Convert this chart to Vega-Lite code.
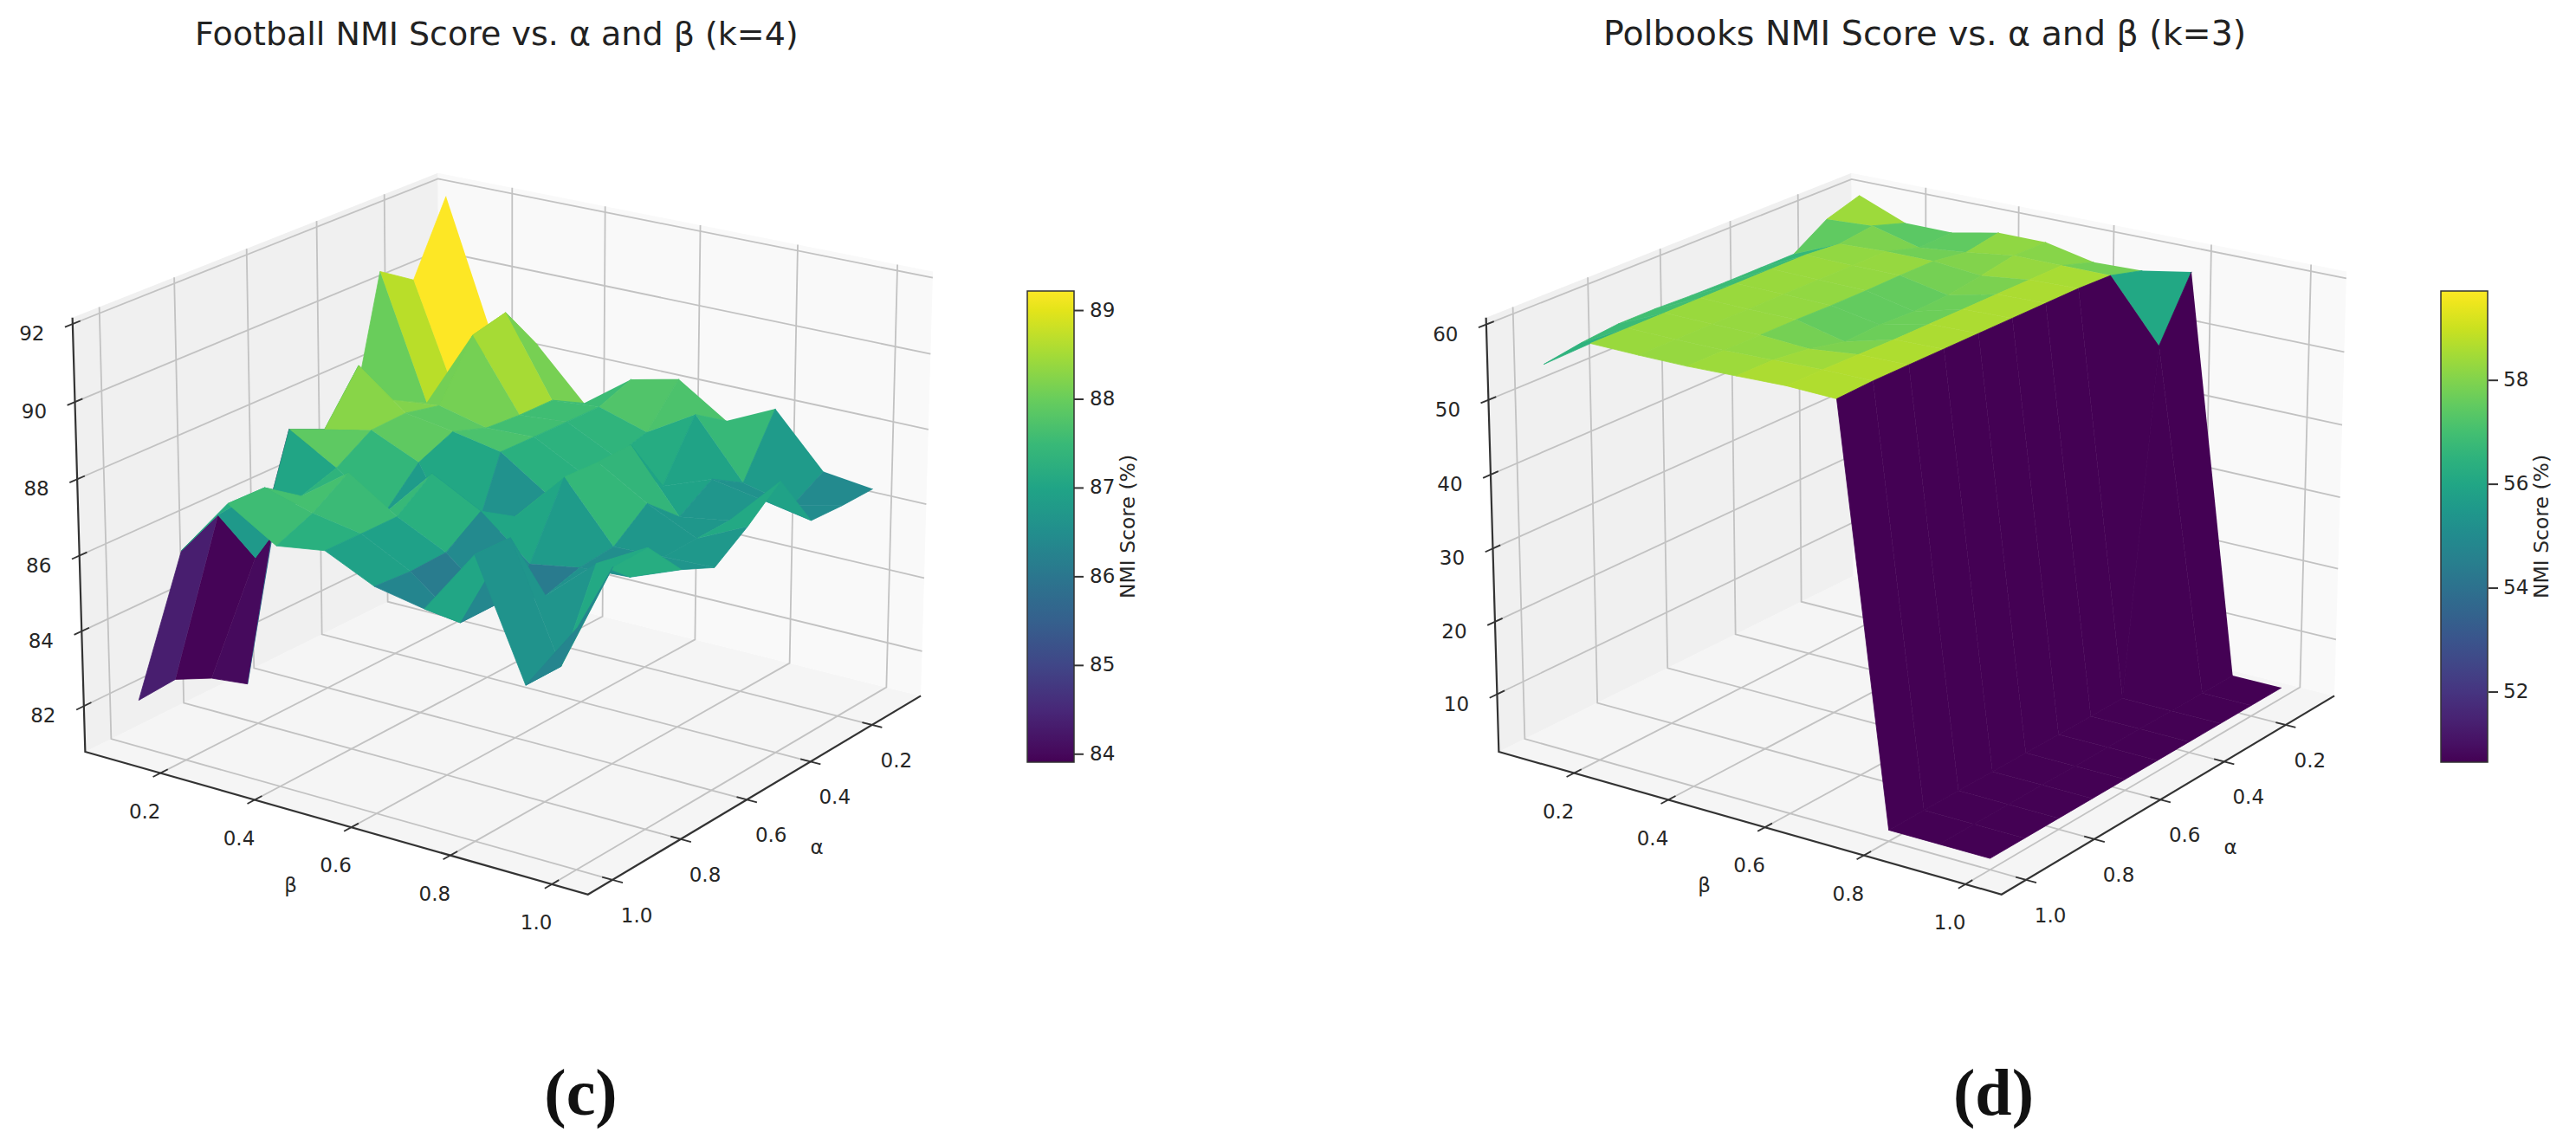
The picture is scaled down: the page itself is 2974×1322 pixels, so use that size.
{"$schema":"https://vega.github.io/schema/vega-lite/v6.json","padding":0,"spacing":0,"bounds":"flush","background":"white","config":{"view":{"stroke":null},"font":"DejaVu Sans"},"resolve":{"scale":{"fill":"independent","stroke":"independent"},"legend":{"fill":"independent","stroke":"independent"}},
"datasets":{
"box":[{"g":"floor","s":0,"a":1.07,"b":0.037,"zf":0},{"g":"floor","s":1,"a":1.07,"b":1.07,"zf":0},{"g":"floor","s":2,"a":0.037,"b":1.07,"zf":0},{"g":"floor","s":3,"a":0.037,"b":0.037,"zf":0},{"g":"left","s":0,"a":1.07,"b":0.037,"zf":0},{"g":"left","s":1,"a":1.07,"b":0.037,"zf":1},{"g":"left","s":2,"a":0.037,"b":0.037,"zf":1},{"g":"left","s":3,"a":0.037,"b":0.037,"zf":0},{"g":"right","s":0,"a":0.037,"b":0.037,"zf":0},{"g":"right","s":1,"a":0.037,"b":0.037,"zf":1},{"g":"right","s":2,"a":0.037,"b":1.07,"zf":1},{"g":"right","s":3,"a":0.037,"b":1.07,"zf":0},{"g":"axes","s":0,"a":1.07,"b":0.037,"zf":1},{"g":"axes","s":1,"a":1.07,"b":0.037,"zf":0},{"g":"axes","s":2,"a":1.07,"b":1.07,"zf":0},{"g":"axes","s":3,"a":0.037,"b":1.07,"zf":0}],
"frameC":[{"kind":"a","v":0.2,"label":"0.2"},{"kind":"a","v":0.4,"label":"0.4"},{"kind":"a","v":0.6,"label":"0.6"},{"kind":"a","v":0.8,"label":"0.8"},{"kind":"a","v":1.0,"label":"1.0"},{"kind":"b","v":0.2,"label":"0.2"},{"kind":"b","v":0.4,"label":"0.4"},{"kind":"b","v":0.6,"label":"0.6"},{"kind":"b","v":0.8,"label":"0.8"},{"kind":"b","v":1.0,"label":"1.0"},{"kind":"z","v":82,"label":"82"},{"kind":"z","v":84,"label":"84"},{"kind":"z","v":86,"label":"86"},{"kind":"z","v":88,"label":"88"},{"kind":"z","v":90,"label":"90"},{"kind":"z","v":92,"label":"92"},{"kind":"ta","v":0.6,"label":"α"},{"kind":"tb","v":0.6,"label":"β"}],
"frameD":[{"kind":"a","v":0.2,"label":"0.2"},{"kind":"a","v":0.4,"label":"0.4"},{"kind":"a","v":0.6,"label":"0.6"},{"kind":"a","v":0.8,"label":"0.8"},{"kind":"a","v":1.0,"label":"1.0"},{"kind":"b","v":0.2,"label":"0.2"},{"kind":"b","v":0.4,"label":"0.4"},{"kind":"b","v":0.6,"label":"0.6"},{"kind":"b","v":0.8,"label":"0.8"},{"kind":"b","v":1.0,"label":"1.0"},{"kind":"z","v":10,"label":"10"},{"kind":"z","v":20,"label":"20"},{"kind":"z","v":30,"label":"30"},{"kind":"z","v":40,"label":"40"},{"kind":"z","v":50,"label":"50"},{"kind":"z","v":60,"label":"60"},{"kind":"ta","v":0.6,"label":"α"},{"kind":"tb","v":0.6,"label":"β"}],
"cbarC":[{"tick":84},{"tick":85},{"tick":86},{"tick":87},{"tick":88},{"tick":89}],
"cbarD":[{"tick":52},{"tick":54},{"tick":56},{"tick":58}],
"football":[
{"alpha":0.1,"beta":0.1,"nmi":91.9},{"alpha":0.1,"beta":0.2,"nmi":88.33},{"alpha":0.1,"beta":0.3,"nmi":88.34},{"alpha":0.1,"beta":0.4,"nmi":87.03},{"alpha":0.1,"beta":0.5,"nmi":87.97},{"alpha":0.1,"beta":0.6,"nmi":88.26},{"alpha":0.1,"beta":0.7,"nmi":87.41},{"alpha":0.1,"beta":0.8,"nmi":88.03},{"alpha":0.1,"beta":0.9,"nmi":86.63},{"alpha":0.1,"beta":1.0,"nmi":86.47},
{"alpha":0.2,"beta":0.1,"nmi":89.98},{"alpha":0.2,"beta":0.2,"nmi":86.8},{"alpha":0.2,"beta":0.3,"nmi":89.63},{"alpha":0.2,"beta":0.4,"nmi":87.52},{"alpha":0.2,"beta":0.5,"nmi":87.63},{"alpha":0.2,"beta":0.6,"nmi":87.23},{"alpha":0.2,"beta":0.7,"nmi":88.0},{"alpha":0.2,"beta":0.8,"nmi":86.46},{"alpha":0.2,"beta":0.9,"nmi":86.15},{"alpha":0.2,"beta":1.0,"nmi":86.46},
{"alpha":0.3,"beta":0.1,"nmi":90.59},{"alpha":0.3,"beta":0.2,"nmi":87.28},{"alpha":0.3,"beta":0.3,"nmi":89.41},{"alpha":0.3,"beta":0.4,"nmi":87.53},{"alpha":0.3,"beta":0.5,"nmi":87.64},{"alpha":0.3,"beta":0.6,"nmi":87.0},{"alpha":0.3,"beta":0.7,"nmi":86.5},{"alpha":0.3,"beta":0.8,"nmi":86.99},{"alpha":0.3,"beta":0.9,"nmi":86.75},{"alpha":0.3,"beta":1.0,"nmi":86.5},
{"alpha":0.4,"beta":0.1,"nmi":86.4},{"alpha":0.4,"beta":0.2,"nmi":87.77},{"alpha":0.4,"beta":0.3,"nmi":87.91},{"alpha":0.4,"beta":0.4,"nmi":87.6},{"alpha":0.4,"beta":0.5,"nmi":87.65},{"alpha":0.4,"beta":0.6,"nmi":86.97},{"alpha":0.4,"beta":0.7,"nmi":88.02},{"alpha":0.4,"beta":0.8,"nmi":86.42},{"alpha":0.4,"beta":0.9,"nmi":86.63},{"alpha":0.4,"beta":1.0,"nmi":87.97},
{"alpha":0.5,"beta":0.1,"nmi":86.5},{"alpha":0.5,"beta":0.2,"nmi":89.11},{"alpha":0.5,"beta":0.3,"nmi":88.12},{"alpha":0.5,"beta":0.4,"nmi":87.92},{"alpha":0.5,"beta":0.5,"nmi":87.67},{"alpha":0.5,"beta":0.6,"nmi":86.8},{"alpha":0.5,"beta":0.7,"nmi":87.99},{"alpha":0.5,"beta":0.8,"nmi":87.21},{"alpha":0.5,"beta":0.9,"nmi":86.6},{"alpha":0.5,"beta":1.0,"nmi":87.23},
{"alpha":0.6,"beta":0.1,"nmi":85.8},{"alpha":0.6,"beta":0.2,"nmi":87.81},{"alpha":0.6,"beta":0.3,"nmi":88.08},{"alpha":0.6,"beta":0.4,"nmi":87.52},{"alpha":0.6,"beta":0.5,"nmi":85.2},{"alpha":0.6,"beta":0.6,"nmi":86.69},{"alpha":0.6,"beta":0.7,"nmi":88.03},{"alpha":0.6,"beta":0.8,"nmi":86.52},{"alpha":0.6,"beta":0.9,"nmi":86.57},{"alpha":0.6,"beta":1.0,"nmi":86.61},
{"alpha":0.7,"beta":0.1,"nmi":81.02},{"alpha":0.7,"beta":0.2,"nmi":88.23},{"alpha":0.7,"beta":0.3,"nmi":87.5},{"alpha":0.7,"beta":0.4,"nmi":86.6},{"alpha":0.7,"beta":0.5,"nmi":87.95},{"alpha":0.7,"beta":0.6,"nmi":87.27},{"alpha":0.7,"beta":0.7,"nmi":86.21},{"alpha":0.7,"beta":0.8,"nmi":86.43},{"alpha":0.7,"beta":0.9,"nmi":86.5},{"alpha":0.7,"beta":1.0,"nmi":87.01},
{"alpha":0.8,"beta":0.1,"nmi":81.66},{"alpha":0.8,"beta":0.2,"nmi":85.24},{"alpha":0.8,"beta":0.3,"nmi":87.19},{"alpha":0.8,"beta":0.4,"nmi":88.1},{"alpha":0.8,"beta":0.5,"nmi":87.26},{"alpha":0.8,"beta":0.6,"nmi":86.64},{"alpha":0.8,"beta":0.7,"nmi":85.6},{"alpha":0.8,"beta":0.8,"nmi":86.16},{"alpha":0.8,"beta":0.9,"nmi":87.3},{"alpha":0.8,"beta":1.0,"nmi":88.02},
{"alpha":0.9,"beta":0.1,"nmi":82.11},{"alpha":0.9,"beta":0.2,"nmi":86.82},{"alpha":0.9,"beta":0.3,"nmi":87.84},{"alpha":0.9,"beta":0.4,"nmi":87.48},{"alpha":0.9,"beta":0.5,"nmi":87.26},{"alpha":0.9,"beta":0.6,"nmi":86.6},{"alpha":0.9,"beta":0.7,"nmi":85.6},{"alpha":0.9,"beta":0.8,"nmi":88.09},{"alpha":0.9,"beta":0.9,"nmi":85.14},{"alpha":0.9,"beta":1.0,"nmi":87.99},
{"alpha":1.0,"beta":0.1,"nmi":82.03},{"alpha":1.0,"beta":0.2,"nmi":86.33},{"alpha":1.0,"beta":0.3,"nmi":87.86},{"alpha":1.0,"beta":0.4,"nmi":87.08},{"alpha":1.0,"beta":0.5,"nmi":87.27},{"alpha":1.0,"beta":0.6,"nmi":86.67},{"alpha":1.0,"beta":0.7,"nmi":86.42},{"alpha":1.0,"beta":0.8,"nmi":88.11},{"alpha":1.0,"beta":0.9,"nmi":85.14},{"alpha":1.0,"beta":1.0,"nmi":86.93}],
"polbooks":[
{"alpha":0.1,"beta":0.1,"nmi":59.7},{"alpha":0.1,"beta":0.2,"nmi":57.1},{"alpha":0.1,"beta":0.3,"nmi":57.1},{"alpha":0.1,"beta":0.4,"nmi":58.4},{"alpha":0.1,"beta":0.5,"nmi":58.4},{"alpha":0.1,"beta":0.6,"nmi":57.0},{"alpha":0.1,"beta":0.7,"nmi":57.2},{"alpha":0.1,"beta":0.8,"nmi":58.4},{"alpha":0.1,"beta":0.9,"nmi":3.5},{"alpha":0.1,"beta":1.0,"nmi":3.5},
{"alpha":0.2,"beta":0.1,"nmi":58.2},{"alpha":0.2,"beta":0.2,"nmi":58.6},{"alpha":0.2,"beta":0.3,"nmi":56.9},{"alpha":0.2,"beta":0.4,"nmi":57.6},{"alpha":0.2,"beta":0.5,"nmi":58.5},{"alpha":0.2,"beta":0.6,"nmi":58.5},{"alpha":0.2,"beta":0.7,"nmi":58.5},{"alpha":0.2,"beta":0.8,"nmi":50.3},{"alpha":0.2,"beta":0.9,"nmi":3.5},{"alpha":0.2,"beta":1.0,"nmi":3.5},
{"alpha":0.3,"beta":0.1,"nmi":55.2},{"alpha":0.3,"beta":0.2,"nmi":58.0},{"alpha":0.3,"beta":0.3,"nmi":58.3},{"alpha":0.3,"beta":0.4,"nmi":58.3},{"alpha":0.3,"beta":0.5,"nmi":57.7},{"alpha":0.3,"beta":0.6,"nmi":58.5},{"alpha":0.3,"beta":0.7,"nmi":58.7},{"alpha":0.3,"beta":0.8,"nmi":3.5},{"alpha":0.3,"beta":0.9,"nmi":3.5},{"alpha":0.3,"beta":1.0,"nmi":3.5},
{"alpha":0.4,"beta":0.1,"nmi":55.2},{"alpha":0.4,"beta":0.2,"nmi":58.4},{"alpha":0.4,"beta":0.3,"nmi":58.3},{"alpha":0.4,"beta":0.4,"nmi":58.3},{"alpha":0.4,"beta":0.5,"nmi":57.0},{"alpha":0.4,"beta":0.6,"nmi":58.5},{"alpha":0.4,"beta":0.7,"nmi":58.7},{"alpha":0.4,"beta":0.8,"nmi":3.5},{"alpha":0.4,"beta":0.9,"nmi":3.5},{"alpha":0.4,"beta":1.0,"nmi":3.5},
{"alpha":0.5,"beta":0.1,"nmi":55.2},{"alpha":0.5,"beta":0.2,"nmi":58.4},{"alpha":0.5,"beta":0.3,"nmi":58.3},{"alpha":0.5,"beta":0.4,"nmi":58.2},{"alpha":0.5,"beta":0.5,"nmi":56.8},{"alpha":0.5,"beta":0.6,"nmi":58.5},{"alpha":0.5,"beta":0.7,"nmi":58.7},{"alpha":0.5,"beta":0.8,"nmi":3.5},{"alpha":0.5,"beta":0.9,"nmi":3.5},{"alpha":0.5,"beta":1.0,"nmi":3.5},
{"alpha":0.6,"beta":0.1,"nmi":55.3},{"alpha":0.6,"beta":0.2,"nmi":58.4},{"alpha":0.6,"beta":0.3,"nmi":58.3},{"alpha":0.6,"beta":0.4,"nmi":58.2},{"alpha":0.6,"beta":0.5,"nmi":57.0},{"alpha":0.6,"beta":0.6,"nmi":58.5},{"alpha":0.6,"beta":0.7,"nmi":58.7},{"alpha":0.6,"beta":0.8,"nmi":3.5},{"alpha":0.6,"beta":0.9,"nmi":3.5},{"alpha":0.6,"beta":1.0,"nmi":3.5},
{"alpha":0.7,"beta":0.1,"nmi":55.5},{"alpha":0.7,"beta":0.2,"nmi":58.4},{"alpha":0.7,"beta":0.3,"nmi":58.3},{"alpha":0.7,"beta":0.4,"nmi":58.3},{"alpha":0.7,"beta":0.5,"nmi":56.8},{"alpha":0.7,"beta":0.6,"nmi":58.5},{"alpha":0.7,"beta":0.7,"nmi":58.7},{"alpha":0.7,"beta":0.8,"nmi":3.5},{"alpha":0.7,"beta":0.9,"nmi":3.5},{"alpha":0.7,"beta":1.0,"nmi":3.5},
{"alpha":0.8,"beta":0.1,"nmi":55.5},{"alpha":0.8,"beta":0.2,"nmi":58.4},{"alpha":0.8,"beta":0.3,"nmi":58.3},{"alpha":0.8,"beta":0.4,"nmi":58.3},{"alpha":0.8,"beta":0.5,"nmi":57.9},{"alpha":0.8,"beta":0.6,"nmi":58.6},{"alpha":0.8,"beta":0.7,"nmi":58.7},{"alpha":0.8,"beta":0.8,"nmi":3.5},{"alpha":0.8,"beta":0.9,"nmi":3.5},{"alpha":0.8,"beta":1.0,"nmi":3.5},
{"alpha":0.9,"beta":0.1,"nmi":55.0},{"alpha":0.9,"beta":0.2,"nmi":58.4},{"alpha":0.9,"beta":0.3,"nmi":58.3},{"alpha":0.9,"beta":0.4,"nmi":58.3},{"alpha":0.9,"beta":0.5,"nmi":58.5},{"alpha":0.9,"beta":0.6,"nmi":58.7},{"alpha":0.9,"beta":0.7,"nmi":58.7},{"alpha":0.9,"beta":0.8,"nmi":3.5},{"alpha":0.9,"beta":0.9,"nmi":3.5},{"alpha":0.9,"beta":1.0,"nmi":3.5},
{"alpha":1.0,"beta":0.1,"nmi":54.2},{"alpha":1.0,"beta":0.2,"nmi":58.4},{"alpha":1.0,"beta":0.3,"nmi":58.3},{"alpha":1.0,"beta":0.4,"nmi":58.3},{"alpha":1.0,"beta":0.5,"nmi":58.5},{"alpha":1.0,"beta":0.6,"nmi":58.7},{"alpha":1.0,"beta":0.7,"nmi":58.5},{"alpha":1.0,"beta":0.8,"nmi":3.5},{"alpha":1.0,"beta":0.9,"nmi":3.5},{"alpha":1.0,"beta":1.0,"nmi":3.5}]
},
"hconcat":[
{"width":1487,"height":1322,
"title":{"text":"Football NMI Score vs. α and β (k=4)","anchor":"start","dx":225,"offset":-60,"fontSize":38,"fontWeight":"normal","font":"DejaVu Sans","color":"#222222"},
"encoding":{"x":{"field":"sx","type":"quantitative","scale":{"domain":[0,1487],"nice":false,"zero":false},"axis":{"domain":false,"ticks":false,"labels":false,"grid":false,"title":"(c)","titleFont":"Liberation Serif","titleFontWeight":"bold","titleFontSize":76,"titleColor":"#111111","titleX":670,"titleY":-36,"titleBaseline":"alphabetic","titleAlign":"center"}},"y":{"field":"sy","type":"quantitative","scale":{"domain":[1322,0],"nice":false,"zero":false},"axis":null}},
"layer":[
{"data":{"name":"box"},"transform":[{"filter":"datum.g!='axes'"},{"calculate":"80.77+datum.zf*11.39","as":"z"},{"calculate":"(datum.a-0.5536)*1.1059","as":"xw"},{"calculate":"(datum.b-0.5536)*1.1059","as":"yw"},{"calculate":"(datum.z-86.465)/11.39*0.857","as":"zw"},{"calculate":"10-(0.7698*datum.xw+0.539*datum.yw+0.342*datum.zw)","as":"den"},{"calculate":"587+6151*(-0.5736*datum.xw+0.8192*datum.yw)/datum.den","as":"sx"},{"calculate":"591.2-6151*(-0.2802*datum.xw-0.1962*datum.yw+0.9397*datum.zw)/datum.den","as":"sy"}],
"mark":{"type":"line","strokeWidth":0},"encoding":{"detail":{"field":"g"},"order":{"field":"s"},"fill":{"condition":[{"test":"datum.g=='left'","value":"#f0f0f0"},{"test":"datum.g=='right'","value":"#f9f9f9"}],"value":"#f5f5f5"}}},
{"data":{"name":"frameC"},"transform":[{"filter":"indexof(['a','b','z'],datum.kind)>=0"},{"calculate":"[0,1,2]","as":"s"},{"flatten":["s"]},{"calculate":"datum.kind=='a'?datum.v:(datum.s==0?1.07:0.037)","as":"a"},{"calculate":"datum.kind=='b'?datum.v:(datum.kind=='a'?(datum.s==0?1.07:0.037):(datum.s==2?1.07:0.037))","as":"b"},{"calculate":"datum.kind=='z'?datum.v:(datum.s==2?92.16:80.77)","as":"z"},{"calculate":"(datum.a-0.5536)*1.1059","as":"xw"},{"calculate":"(datum.b-0.5536)*1.1059","as":"yw"},{"calculate":"(datum.z-86.465)/11.39*0.857","as":"zw"},{"calculate":"10-(0.7698*datum.xw+0.539*datum.yw+0.342*datum.zw)","as":"den"},{"calculate":"587+6151*(-0.5736*datum.xw+0.8192*datum.yw)/datum.den","as":"sx"},{"calculate":"591.2-6151*(-0.2802*datum.xw-0.1962*datum.yw+0.9397*datum.zw)/datum.den","as":"sy"},{"calculate":"datum.kind+datum.v","as":"gid"}],
"mark":{"type":"line","stroke":"#c2c2c2","strokeWidth":1.8},"encoding":{"detail":{"field":"gid"},"order":{"field":"s"}}},
{"data":{"name":"football"},"transform":[{"calculate":"[0,1,2,3]","as":"c"},{"flatten":["c"]},{"calculate":"round(datum.alpha*10)-((datum.c==1||datum.c==2)?1:0)","as":"fi"},{"calculate":"round(datum.beta*10)-((datum.c==2||datum.c==3)?1:0)","as":"fj"},{"filter":"datum.fi>=1&&datum.fi<=9&&datum.fj>=1&&datum.fj<=9"},{"calculate":"datum.fi*100+datum.fj","as":"face"},{"joinaggregate":[{"op":"mean","field":"nmi","as":"score"}],"groupby":["face"]},{"calculate":"(datum.alpha-0.5536)*1.1059","as":"xw"},{"calculate":"(datum.beta-0.5536)*1.1059","as":"yw"},{"calculate":"(datum.nmi-86.465)/11.39*0.857","as":"zw"},{"calculate":"10-(0.7698*datum.xw+0.539*datum.yw+0.342*datum.zw)","as":"den"},{"calculate":"587+6151*(-0.5736*datum.xw+0.8192*datum.yw)/datum.den","as":"sx"},{"calculate":"591.2-6151*(-0.2802*datum.xw-0.1962*datum.yw+0.9397*datum.zw)/datum.den","as":"sy"}],
"mark":{"type":"line","strokeWidth":0.8,"strokeJoin":"round"},"encoding":{"detail":{"field":"face"},"order":{"field":"c"},
"fill":{"field":"score","type":"quantitative","scale":{"scheme":"viridis","domain":[83.91,89.22],"clamp":true,"nice":false,"zero":false},"legend":{"orient":"none","legendX":1186,"legendY":336,"values":[84,85,86,87,88,89],"format":"d","gradientLength":544,"gradientThickness":54,"gradientStrokeColor":"#333333","gradientStrokeWidth":1.5,"labelFontSize":23,"labelColor":"#262626","labelFont":"DejaVu Sans","labelOffset":18,"labelOverlap":false,"title":"NMI Score (%)","titleFontSize":23.5,"titleFontWeight":"normal","titleFont":"DejaVu Sans","titleColor":"#262626","titleOrient":"right","titleAnchor":"middle","titleAlign":"center","titleBaseline":"middle","titlePadding":16,"encode":{"title":{"update":{"angle":{"value":-90}}}}}},
"stroke":{"field":"score","type":"quantitative","scale":{"scheme":"viridis","domain":[83.9101,89.2201],"clamp":true,"nice":false,"zero":false},"legend":null}}},
{"data":{"name":"box"},"transform":[{"filter":"datum.g=='axes'"},{"calculate":"80.77+datum.zf*11.39","as":"z"},{"calculate":"(datum.a-0.5536)*1.1059","as":"xw"},{"calculate":"(datum.b-0.5536)*1.1059","as":"yw"},{"calculate":"(datum.z-86.465)/11.39*0.857","as":"zw"},{"calculate":"10-(0.7698*datum.xw+0.539*datum.yw+0.342*datum.zw)","as":"den"},{"calculate":"587+6151*(-0.5736*datum.xw+0.8192*datum.yw)/datum.den","as":"sx"},{"calculate":"591.2-6151*(-0.2802*datum.xw-0.1962*datum.yw+0.9397*datum.zw)/datum.den","as":"sy"}],
"mark":{"type":"line","stroke":"#333333","strokeWidth":2.2},"encoding":{"order":{"field":"s"}}},
{"data":{"name":"frameC"},"transform":[{"filter":"indexof(['a','b','z'],datum.kind)>=0"},{"calculate":"[-0.02,0.02]","as":"s"},{"flatten":["s"]},{"calculate":"datum.kind=='a'?datum.v:1.07+datum.s","as":"a"},{"calculate":"datum.kind=='a'?1.07+datum.s:(datum.kind=='b'?datum.v:0.037)","as":"b"},{"calculate":"datum.kind=='z'?datum.v:80.77","as":"z"},{"calculate":"(datum.a-0.5536)*1.1059","as":"xw"},{"calculate":"(datum.b-0.5536)*1.1059","as":"yw"},{"calculate":"(datum.z-86.465)/11.39*0.857","as":"zw"},{"calculate":"10-(0.7698*datum.xw+0.539*datum.yw+0.342*datum.zw)","as":"den"},{"calculate":"587+6151*(-0.5736*datum.xw+0.8192*datum.yw)/datum.den","as":"sx"},{"calculate":"591.2-6151*(-0.2802*datum.xw-0.1962*datum.yw+0.9397*datum.zw)/datum.den","as":"sy"},{"calculate":"datum.kind+datum.v","as":"gid"}],
"mark":{"type":"line","stroke":"#333333","strokeWidth":1.8},"encoding":{"detail":{"field":"gid"},"order":{"field":"s"}}},
{"data":{"name":"frameC"},"transform":[{"calculate":"(datum.kind=='a'||datum.kind=='ta')?datum.v:1.07","as":"a"},{"calculate":"(datum.kind=='a'||datum.kind=='ta')?1.07:((datum.kind=='b'||datum.kind=='tb')?datum.v:0.037)","as":"b"},{"calculate":"datum.kind=='z'?datum.v:80.77","as":"z"},{"calculate":"(datum.a-0.5536)*1.1059","as":"xw"},{"calculate":"(datum.b-0.5536)*1.1059","as":"yw"},{"calculate":"(datum.z-86.465)/11.39*0.857","as":"zw"},{"calculate":"10-(0.7698*datum.xw+0.539*datum.yw+0.342*datum.zw)","as":"den"},{"calculate":"{a:28,b:-18,z:-47,ta:81,tb:-70}[datum.kind]+587+6151*(-0.5736*datum.xw+0.8192*datum.yw)/datum.den","as":"sx"},{"calculate":"{a:42,b:45,z:12,ta:56,tb:68}[datum.kind]+591.2-6151*(-0.2802*datum.xw-0.1962*datum.yw+0.9397*datum.zw)/datum.den","as":"sy"}],
"mark":{"type":"text","fontSize":23,"font":"DejaVu Sans","color":"#262626","align":"center","baseline":"middle"},"encoding":{"text":{"field":"label"}}},
{"data":{"name":"cbarC"},"transform":[{"calculate":"1240","as":"sx"},{"calculate":"1251","as":"sx2"},{"calculate":"880-(datum.tick-83.91)/5.31*544","as":"sy"}],"mark":{"type":"rule","stroke":"#333333","strokeWidth":2},"encoding":{"x2":{"field":"sx2"}}}
]},
{"width":1487,"height":1322,
"title":{"text":"Polbooks NMI Score vs. α and β (k=3)","anchor":"start","dx":364,"offset":-60,"fontSize":39.5,"fontWeight":"normal","font":"DejaVu Sans","color":"#222222"},
"encoding":{"x":{"field":"sx","type":"quantitative","scale":{"domain":[1487,2974],"nice":false,"zero":false},"axis":{"domain":false,"ticks":false,"labels":false,"grid":false,"title":"(d)","titleFont":"Liberation Serif","titleFontWeight":"bold","titleFontSize":76,"titleColor":"#111111","titleX":814,"titleY":-36,"titleBaseline":"alphabetic","titleAlign":"center"}},"y":{"field":"sy","type":"quantitative","scale":{"domain":[1322,0],"nice":false,"zero":false},"axis":null}},
"layer":[
{"data":{"name":"box"},"transform":[{"filter":"datum.g!='axes'"},{"calculate":"1.99+datum.zf*58.91","as":"z"},{"calculate":"(datum.a-0.5536)*1.1059","as":"xw"},{"calculate":"(datum.b-0.5536)*1.1059","as":"yw"},{"calculate":"(datum.z-31.445)/58.91*0.857","as":"zw"},{"calculate":"10-(0.7698*datum.xw+0.539*datum.yw+0.342*datum.zw)","as":"den"},{"calculate":"2219+6151*(-0.5736*datum.xw+0.8192*datum.yw)/datum.den","as":"sx"},{"calculate":"591.2-6151*(-0.2802*datum.xw-0.1962*datum.yw+0.9397*datum.zw)/datum.den","as":"sy"}],
"mark":{"type":"line","strokeWidth":0},"encoding":{"detail":{"field":"g"},"order":{"field":"s"},"fill":{"condition":[{"test":"datum.g=='left'","value":"#f0f0f0"},{"test":"datum.g=='right'","value":"#f9f9f9"}],"value":"#f5f5f5"}}},
{"data":{"name":"frameD"},"transform":[{"filter":"indexof(['a','b','z'],datum.kind)>=0"},{"calculate":"[0,1,2]","as":"s"},{"flatten":["s"]},{"calculate":"datum.kind=='a'?datum.v:(datum.s==0?1.07:0.037)","as":"a"},{"calculate":"datum.kind=='b'?datum.v:(datum.kind=='a'?(datum.s==0?1.07:0.037):(datum.s==2?1.07:0.037))","as":"b"},{"calculate":"datum.kind=='z'?datum.v:(datum.s==2?60.9:1.99)","as":"z"},{"calculate":"(datum.a-0.5536)*1.1059","as":"xw"},{"calculate":"(datum.b-0.5536)*1.1059","as":"yw"},{"calculate":"(datum.z-31.445)/58.91*0.857","as":"zw"},{"calculate":"10-(0.7698*datum.xw+0.539*datum.yw+0.342*datum.zw)","as":"den"},{"calculate":"2219+6151*(-0.5736*datum.xw+0.8192*datum.yw)/datum.den","as":"sx"},{"calculate":"591.2-6151*(-0.2802*datum.xw-0.1962*datum.yw+0.9397*datum.zw)/datum.den","as":"sy"},{"calculate":"datum.kind+datum.v","as":"gid"}],
"mark":{"type":"line","stroke":"#c2c2c2","strokeWidth":1.8},"encoding":{"detail":{"field":"gid"},"order":{"field":"s"}}},
{"data":{"name":"polbooks"},"transform":[{"calculate":"[0,1,2,3]","as":"c"},{"flatten":["c"]},{"calculate":"round(datum.alpha*10)-((datum.c==1||datum.c==2)?1:0)","as":"fi"},{"calculate":"round(datum.beta*10)-((datum.c==2||datum.c==3)?1:0)","as":"fj"},{"filter":"datum.fi>=1&&datum.fi<=9&&datum.fj>=1&&datum.fj<=9"},{"calculate":"datum.fi*100+datum.fj","as":"face"},{"joinaggregate":[{"op":"mean","field":"nmi","as":"score"}],"groupby":["face"]},{"calculate":"(datum.alpha-0.5536)*1.1059","as":"xw"},{"calculate":"(datum.beta-0.5536)*1.1059","as":"yw"},{"calculate":"(datum.nmi-31.445)/58.91*0.857","as":"zw"},{"calculate":"10-(0.7698*datum.xw+0.539*datum.yw+0.342*datum.zw)","as":"den"},{"calculate":"2219+6151*(-0.5736*datum.xw+0.8192*datum.yw)/datum.den","as":"sx"},{"calculate":"591.2-6151*(-0.2802*datum.xw-0.1962*datum.yw+0.9397*datum.zw)/datum.den","as":"sy"}],
"mark":{"type":"line","strokeWidth":0.8,"strokeJoin":"round"},"encoding":{"detail":{"field":"face"},"order":{"field":"c"},
"fill":{"field":"score","type":"quantitative","scale":{"scheme":"viridis","domain":[50.65,59.72],"clamp":true,"nice":false,"zero":false},"legend":{"orient":"none","legendX":1331,"legendY":336,"values":[52,54,56,58],"format":"d","gradientLength":544,"gradientThickness":54,"gradientStrokeColor":"#333333","gradientStrokeWidth":1.5,"labelFontSize":23,"labelColor":"#262626","labelFont":"DejaVu Sans","labelOffset":18,"labelOverlap":false,"title":"NMI Score (%)","titleFontSize":23.5,"titleFontWeight":"normal","titleFont":"DejaVu Sans","titleColor":"#262626","titleOrient":"right","titleAnchor":"middle","titleAlign":"center","titleBaseline":"middle","titlePadding":16,"encode":{"title":{"update":{"angle":{"value":-90}}}}}},
"stroke":{"field":"score","type":"quantitative","scale":{"scheme":"viridis","domain":[50.6501,59.7201],"clamp":true,"nice":false,"zero":false},"legend":null}}},
{"data":{"name":"box"},"transform":[{"filter":"datum.g=='axes'"},{"calculate":"1.99+datum.zf*58.91","as":"z"},{"calculate":"(datum.a-0.5536)*1.1059","as":"xw"},{"calculate":"(datum.b-0.5536)*1.1059","as":"yw"},{"calculate":"(datum.z-31.445)/58.91*0.857","as":"zw"},{"calculate":"10-(0.7698*datum.xw+0.539*datum.yw+0.342*datum.zw)","as":"den"},{"calculate":"2219+6151*(-0.5736*datum.xw+0.8192*datum.yw)/datum.den","as":"sx"},{"calculate":"591.2-6151*(-0.2802*datum.xw-0.1962*datum.yw+0.9397*datum.zw)/datum.den","as":"sy"}],
"mark":{"type":"line","stroke":"#333333","strokeWidth":2.2},"encoding":{"order":{"field":"s"}}},
{"data":{"name":"frameD"},"transform":[{"filter":"indexof(['a','b','z'],datum.kind)>=0"},{"calculate":"[-0.02,0.02]","as":"s"},{"flatten":["s"]},{"calculate":"datum.kind=='a'?datum.v:1.07+datum.s","as":"a"},{"calculate":"datum.kind=='a'?1.07+datum.s:(datum.kind=='b'?datum.v:0.037)","as":"b"},{"calculate":"datum.kind=='z'?datum.v:1.99","as":"z"},{"calculate":"(datum.a-0.5536)*1.1059","as":"xw"},{"calculate":"(datum.b-0.5536)*1.1059","as":"yw"},{"calculate":"(datum.z-31.445)/58.91*0.857","as":"zw"},{"calculate":"10-(0.7698*datum.xw+0.539*datum.yw+0.342*datum.zw)","as":"den"},{"calculate":"2219+6151*(-0.5736*datum.xw+0.8192*datum.yw)/datum.den","as":"sx"},{"calculate":"591.2-6151*(-0.2802*datum.xw-0.1962*datum.yw+0.9397*datum.zw)/datum.den","as":"sy"},{"calculate":"datum.kind+datum.v","as":"gid"}],
"mark":{"type":"line","stroke":"#333333","strokeWidth":1.8},"encoding":{"detail":{"field":"gid"},"order":{"field":"s"}}},
{"data":{"name":"frameD"},"transform":[{"calculate":"(datum.kind=='a'||datum.kind=='ta')?datum.v:1.07","as":"a"},{"calculate":"(datum.kind=='a'||datum.kind=='ta')?1.07:((datum.kind=='b'||datum.kind=='tb')?datum.v:0.037)","as":"b"},{"calculate":"datum.kind=='z'?datum.v:1.99","as":"z"},{"calculate":"(datum.a-0.5536)*1.1059","as":"xw"},{"calculate":"(datum.b-0.5536)*1.1059","as":"yw"},{"calculate":"(datum.z-31.445)/58.91*0.857","as":"zw"},{"calculate":"10-(0.7698*datum.xw+0.539*datum.yw+0.342*datum.zw)","as":"den"},{"calculate":"{a:28,b:-18,z:-47,ta:81,tb:-70}[datum.kind]+2219+6151*(-0.5736*datum.xw+0.8192*datum.yw)/datum.den","as":"sx"},{"calculate":"{a:42,b:45,z:12,ta:56,tb:68}[datum.kind]+591.2-6151*(-0.2802*datum.xw-0.1962*datum.yw+0.9397*datum.zw)/datum.den","as":"sy"}],
"mark":{"type":"text","fontSize":23,"font":"DejaVu Sans","color":"#262626","align":"center","baseline":"middle"},"encoding":{"text":{"field":"label"}}},
{"data":{"name":"cbarD"},"transform":[{"calculate":"2873","as":"sx"},{"calculate":"2884","as":"sx2"},{"calculate":"880-(datum.tick-50.65)/9.07*544","as":"sy"}],"mark":{"type":"rule","stroke":"#333333","strokeWidth":2},"encoding":{"x2":{"field":"sx2"}}}
]}
]}
